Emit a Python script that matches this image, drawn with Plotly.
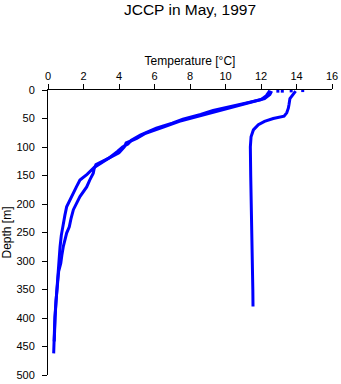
import plotly.graph_objects as go

# Cast A1 (cold profile, left branch at depth)
depth_a1 = [1, 10, 17, 22, 30, 36, 43, 51, 58, 67, 79, 88, 95, 100, 108, 118, 128, 136, 148, 158,
            170, 181, 195, 205, 220, 234, 255, 275, 300, 316, 335, 351, 375, 398, 425, 450, 462]
temp_a1 = [12.5, 12.3, 12.0, 11.3, 10.0, 9.3, 8.6, 7.6, 7.0, 6.1, 5.2, 4.7, 4.5, 4.2, 3.9, 3.5, 3.0, 2.6, 2.2, 1.8,
           1.6, 1.43, 1.2, 1.05, 0.95, 0.86, 0.75, 0.68, 0.62, 0.58, 0.53, 0.49, 0.44, 0.39, 0.36, 0.34, 0.32]

# Cast A2 (cold profile, right branch at depth)
depth_a2 = [2, 8, 15, 20, 24, 32, 40, 47, 55, 65, 76, 85, 93, 100, 110, 120, 131, 138, 146, 158,
            170, 187, 200, 210, 225, 240, 251, 262, 275, 290, 304, 318, 340, 370, 400, 420, 441]
temp_a2 = [12.6, 12.5, 12.2, 11.6, 11.2, 10.2, 9.2, 8.4, 7.4, 6.5, 5.5, 5.0, 4.4, 4.3, 4.0, 3.4, 2.7, 2.6, 2.55, 2.35,
           2.18, 1.8, 1.6, 1.43, 1.3, 1.2, 1.05, 0.95, 0.86, 0.78, 0.72, 0.6, 0.52, 0.45, 0.4, 0.37, 0.35]

# Cast B (warm profile)
depth_b = [2, 8, 15, 25, 32, 40, 46, 50, 55, 61, 70, 82, 100, 150, 200, 250, 300, 350, 380]
temp_b = [13.95, 13.8, 13.63, 13.58, 13.54, 13.45, 13.3, 12.69, 12.2, 11.85, 11.57, 11.44, 11.4,
          11.42, 11.46, 11.5, 11.52, 11.54, 11.55]

# Sparse surface readings
depth_s = [2, 2, 1.5, 1]
temp_s = [12.95, 13.2, 13.7, 14.35]

x_ticks = [0, 2, 4, 6, 8, 10, 12, 14, 16]
y_ticks = [0, 50, 100, 150, 200, 250, 300, 350, 400, 450, 500]

blue = "#0000FF"
font = "Liberation Sans, Arial, sans-serif"

fig = go.Figure()
for t, d in [(temp_a1, depth_a1), (temp_a2, depth_a2), (temp_b, depth_b)]:
    fig.add_trace(go.Scatter(x=t, y=d, mode="lines", line=dict(color=blue, width=3),
                             showlegend=False, hoverinfo="skip"))
fig.add_trace(go.Scatter(x=temp_s, y=depth_s, mode="markers",
                         marker=dict(color=blue, size=3, symbol="square"),
                         showlegend=False, hoverinfo="skip"))

fig.update_layout(
    width=341, height=384,
    margin=dict(l=48, r=9, t=90, b=9),
    paper_bgcolor="white", plot_bgcolor="white",
    font=dict(family=font, size=11, color="black"),
    title=dict(text="JCCP in May, 1997", x=0.5, xref="paper", y=0.974, yanchor="middle",
               font=dict(family=font, size=15.5, color="black")),
    xaxis=dict(side="top", range=[0, 16], tickvals=x_ticks, ticktext=[str(v) for v in x_ticks],
               showgrid=False, zeroline=False, showline=True, linecolor="black", linewidth=1,
               ticks="outside", ticklen=5, tickcolor="black", automargin=False,
               title=dict(text="Temperature [°C]", standoff=1, font=dict(size=12))),
    yaxis=dict(range=[500, 0], tickvals=y_ticks, ticktext=[str(v) for v in y_ticks],
               showgrid=False, zeroline=False, showline=True, linecolor="black", linewidth=1,
               ticks="outside", ticklen=5, tickcolor="black", ticklabelstandoff=5, automargin=False,
               title=dict(text="Depth [m]", standoff=4, font=dict(size=12))),
)

fig.write_html("out.html")
